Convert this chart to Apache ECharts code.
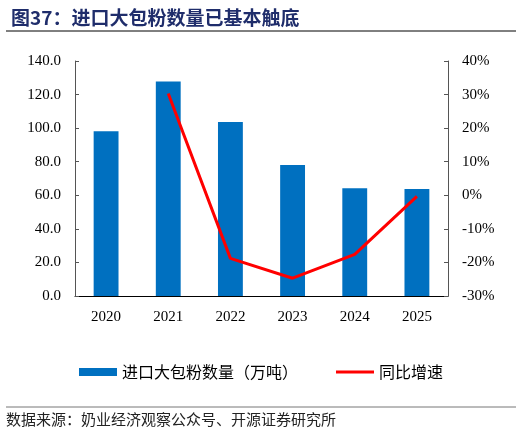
<!DOCTYPE html>
<html>
<head>
<meta charset="utf-8">
<script src="https://cdn.jsdelivr.net/npm/echarts@6/dist/echarts.min.js"></script>
<style>
  html, body { margin: 0; padding: 0; background: #fff; }
</style>
</head>
<body>
<div id="main" style="width:522px;height:437px;"></div>
<script>
// 数据
var years = ['2020', '2021', '2022', '2023', '2024', '2025'];
var importVolume = [98.2, 127.8, 103.6, 78.0, 64.2, 63.8];   // 万吨
var yoyGrowth = [null, 30.3, -18.8, -24.7, -17.6, -0.3];     // %

var serif = '"Liberation Serif", "Times New Roman", serif';
var cjk = '"Noto Sans CJK SC", sans-serif';

var myChart = echarts.init(document.getElementById('main'));
myChart.setOption({
  animation: false,
  title: {
    text: '图37：进口大包粉数量已基本触底',
    left: 6,
    top: 3,
    textStyle: { color: '#1f2d6b', fontSize: 19, fontWeight: 'bold', fontFamily: cjk }
  },
  graphic: [
    { type: 'line', shape: { x1: 6, y1: 31, x2: 516, y2: 31 }, style: { stroke: '#000', lineWidth: 1 } },
    { type: 'line', shape: { x1: 6, y1: 407, x2: 516, y2: 407 }, style: { stroke: '#777', lineWidth: 1 } },
    {
      type: 'text', left: 6, top: 412,
      style: { text: '数据来源：奶业经济观察公众号、开源证券研究所', fill: '#222', fontSize: 15, fontFamily: cjk }
    }
  ],
  legend: {
    top: 359,
    left: 'center',
    itemGap: 38,
    itemWidth: 38,
    itemHeight: 8,
    textStyle: { fontSize: 16, color: '#000', fontFamily: cjk },
    data: [
      { name: '进口大包粉数量（万吨）', icon: 'rect' },
      { name: '同比增速', icon: 'path://M0,0 L40,0 L40,3 L0,3 Z', itemStyle: { color: '#ff0000' } }
    ]
  },
  grid: { left: 75, right: 74, top: 61, bottom: 141 },
  xAxis: {
    type: 'category',
    data: years,
    axisLine: { lineStyle: { color: '#000' } },
    axisTick: { inside: true, length: 4, lineStyle: { color: '#555' } },
    axisLabel: { color: '#000', fontSize: 15, fontFamily: serif, margin: 14 }
  },
  yAxis: [
    {
      type: 'value', min: 0, max: 140, interval: 20,
      splitLine: { show: false },
      axisLine: { show: true, lineStyle: { color: '#555' } },
      axisTick: { show: true, inside: true, length: 4, lineStyle: { color: '#555' } },
      axisLabel: { color: '#000', fontSize: 15, fontFamily: serif, margin: 14,
        formatter: function (v) { return v.toFixed(1); } }
    },
    {
      type: 'value', min: -30, max: 40, interval: 10,
      splitLine: { show: false },
      axisLine: { show: true, lineStyle: { color: '#555' } },
      axisTick: { show: true, inside: true, length: 4, lineStyle: { color: '#555' } },
      axisLabel: { color: '#000', fontSize: 15, fontFamily: serif, margin: 14, formatter: '{value}%' }
    }
  ],
  series: [
    {
      name: '进口大包粉数量（万吨）',
      type: 'bar',
      data: importVolume,
      barWidth: '40%',
      itemStyle: { color: '#0070c0' }
    },
    {
      name: '同比增速',
      type: 'line',
      yAxisIndex: 1,
      data: yoyGrowth,
      symbol: 'none',
      lineStyle: { color: '#ff0000', width: 3 },
      itemStyle: { color: '#ff0000' }
    }
  ]
});
</script>
</body>
</html>
